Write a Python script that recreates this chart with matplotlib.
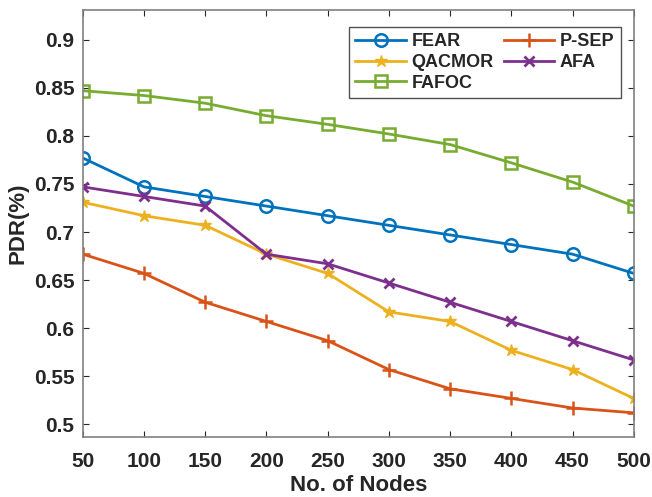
import numpy as np
from matplotlib import pyplot as plt

nodes = [50, 100, 150, 200, 250, 300, 350, 400, 450, 500]
fear = [0.777, 0.747, 0.737, 0.727, 0.717, 0.707, 0.697, 0.687, 0.677, 0.657]
psep = [0.677, 0.657, 0.627, 0.607, 0.587, 0.557, 0.537, 0.527, 0.517, 0.512]
qacmor = [0.731, 0.717, 0.707, 0.677, 0.657, 0.617, 0.607, 0.577, 0.557, 0.527]
afa = [0.747, 0.737, 0.727, 0.677, 0.667, 0.647, 0.627, 0.607, 0.587, 0.567]
fafoc = [0.847, 0.842, 0.834, 0.821, 0.812, 0.802, 0.791, 0.772, 0.752, 0.727]

yticks = [0.5, 0.55, 0.6, 0.65, 0.7, 0.75, 0.8, 0.85, 0.9]
ytick_labels = ['0.5', '0.55', '0.6', '0.65', '0.7', '0.75', '0.8', '0.85', '0.9']

plt.rcParams['font.family'] = ['Liberation Sans', 'DejaVu Sans']
plt.rcParams['font.weight'] = 'bold'

fig = plt.figure(figsize=(6.52, 4.97), dpi=100)
ax = fig.add_axes([0.127, 0.121, 0.845, 0.859])

lw = 2
h_fear, = ax.plot(nodes, fear, '-o', color='#0072BD', lw=lw, ms=9, mfc='none', mew=1.8, label='FEAR')
h_psep, = ax.plot(nodes, psep, '-+', color='#D95319', lw=lw, ms=10, mew=1.8, label='P-SEP')
h_qac, = ax.plot(nodes, qacmor, '-*', color='#EDB120', lw=lw, ms=9, label='QACMOR')
h_afa, = ax.plot(nodes, afa, '-x', color='#7E2F8E', lw=lw, ms=7, mew=2, label='AFA')
h_faf, = ax.plot(nodes, fafoc, '-s', color='#77AC30', lw=lw, ms=8, mfc='none', mew=1.8, label='FAFOC')

ax.set_xlim(50, 500)
ax.set_ylim(0.487, 0.931)
ax.set_xticks(nodes)
ax.set_yticks(yticks)
ax.set_yticklabels(ytick_labels)
ax.tick_params(direction='in', top=True, right=True, labelsize=15, colors='#262626',
               length=4, pad=6)
ax.tick_params(axis='x', pad=11)
for s in ax.spines.values():
    s.set_color('#808080')
    s.set_linewidth(1.2)

ax.set_xlabel('No. of Nodes', fontsize=16, fontweight='bold', color='#262626', labelpad=3)
ax.set_ylabel('PDR(%)', fontsize=16, fontweight='bold', color='#262626', labelpad=4)

# matplotlib fills legend columns first; order handles so rows read like MATLAB
handles = [h_fear, h_qac, h_faf, h_psep, h_afa]
leg = ax.legend(handles=handles, labels=[h.get_label() for h in handles],
                ncol=2, loc='upper right', bbox_to_anchor=(0.976, 0.96), borderaxespad=0,
                fontsize=13, fancybox=False, edgecolor='#262626', handlelength=2.8,
                columnspacing=0.55, handletextpad=0.3, labelspacing=0.2, borderpad=0.35)
leg.get_frame().set_linewidth(1.0)
for t in leg.get_texts():
    t.set_color('#262626')

fig.savefig('out.png', dpi=100)
